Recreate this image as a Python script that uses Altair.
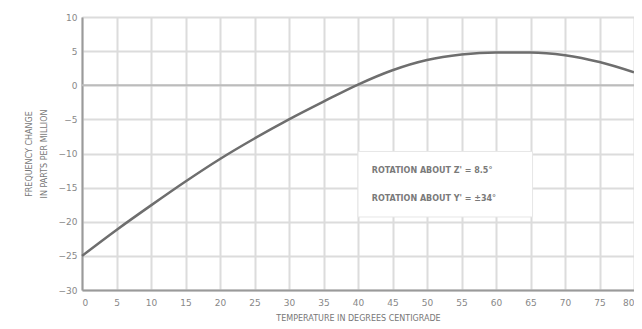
import altair as alt
import pandas as pd

temps = [0, 5, 10, 15, 20, 25, 30, 35, 40, 45, 50, 55, 60, 65, 70, 75, 80]
freq_change = [-25, -21.2, -17.6, -14.1, -10.8, -7.8, -5, -2.4, 0.1, 2.2, 3.7, 4.5, 4.8, 4.8, 4.4, 3.4, 1.9]

x_ticks = [0, 5, 10, 15, 20, 25, 30, 35, 40, 45, 50, 55, 60, 65, 70, 75, 80]
y_ticks = [-30, -25, -20, -15, -10, -5, 0, 5, 10]

legend_lines = ["ROTATION ABOUT Z' = 8.5°", "ROTATION ABOUT Y' = ±34°"]
legend_y = [-12.6, -16.7]
legend_x = [42, 42]
box_x = [40, 65.3]
box_y = [-9.7, -19.3]
zero_level = [0]

df = pd.DataFrame({"t": temps, "f": freq_change})
leg = pd.DataFrame({"x": legend_x, "y": legend_y, "label": legend_lines})
box = pd.DataFrame({"x": [box_x[0]], "x2": [box_x[1]], "y": [box_y[0]], "y2": [box_y[1]]})
zdf = pd.DataFrame({"z": zero_level})

GRAY = "#6e6e6e"
FONT = "DejaVu Sans"

xscale = alt.Scale(domain=[0, 80], nice=False, zero=False)
yscale = alt.Scale(domain=[-30, 10], nice=False, zero=False)

xaxis = alt.Axis(values=x_ticks, title="TEMPERATURE IN DEGREES CENTIGRADE",
                 labelFontSize=9, labelColor="#888", labelFont=FONT, labelPadding=8,
                 titleFontSize=8, titleColor="#777", titleFont=FONT, titlePadding=7,
                 titleFontWeight="normal",
                 ticks=False, grid=True, gridColor="#dcdcdc", gridWidth=2,
                 domainColor="#9a9a9a", domainWidth=2)
yaxis = alt.Axis(values=y_ticks, title=["FREQUENCY CHANGE", "IN PARTS PER MILLION"],
                 labelFontSize=9, labelColor="#888", labelFont=FONT, labelPadding=5,
                 titleFontSize=8, titleColor="#777", titleFont=FONT, titlePadding=10,
                 titleFontWeight="normal", titleLineHeight=15,
                 ticks=False, grid=True, gridColor="#dcdcdc", gridWidth=2,
                 domainColor="#9a9a9a", domainWidth=2)

curve = alt.Chart(df).mark_line(color=GRAY, strokeWidth=2.5, interpolate="monotone").encode(
    x=alt.X("t:Q", scale=xscale, axis=xaxis),
    y=alt.Y("f:Q", scale=yscale, axis=yaxis),
)

zero_rule = alt.Chart(zdf).mark_rule(color="#bcbcbc", strokeWidth=2).encode(
    y=alt.Y("z:Q", scale=yscale, axis=yaxis)
)

box_mark = alt.Chart(box).mark_rect(fill="white", stroke="#e6e6e6", strokeWidth=1).encode(
    x=alt.X("x:Q", scale=xscale, axis=xaxis), x2="x2",
    y=alt.Y("y:Q", scale=yscale, axis=yaxis), y2="y2"
)

text = alt.Chart(leg).mark_text(align="left", baseline="middle", font=FONT,
                                fontSize=8, fontWeight="bold", color="#7a7a7a").encode(
    x=alt.X("x:Q", scale=xscale, axis=xaxis),
    y=alt.Y("y:Q", scale=yscale, axis=yaxis),
    text="label:N"
)

chart = alt.layer(zero_rule, box_mark, text, curve).properties(
    width=552, height=273,
    padding={"left": 74, "top": 9, "right": 0, "bottom": 31},
    autosize="none",
).configure_view(stroke="#9f9f9f", strokeWidth=2).configure(background="white")

chart.save("out.html", embed_options={"renderer": "svg", "actions": False})
